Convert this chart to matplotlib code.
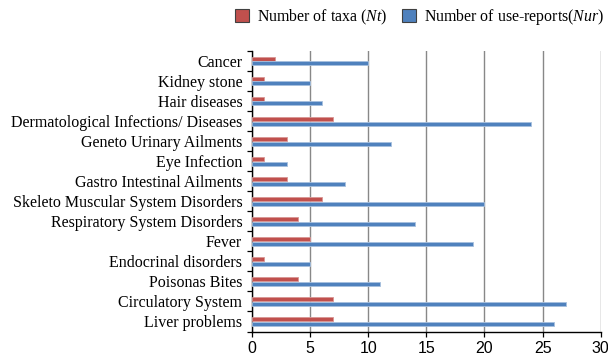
import matplotlib
matplotlib.use("Agg")
import matplotlib.pyplot as plt
import numpy as np

categories = ["Cancer", "Kidney stone", "Hair diseases", "Dermatological Infections/ Diseases",
              "Geneto Urinary Ailments", "Eye Infection", "Gastro Intestinal Ailments",
              "Skeleto Muscular System Disorders", "Respiratory System Disorders", "Fever",
              "Endocrinal disorders", "Poisonas Bites", "Circulatory System", "Liver problems"]
nt = [2, 1, 1, 7, 3, 1, 3, 6, 4, 5, 1, 4, 7, 7]
nur = [10, 5, 6, 24, 12, 3, 8, 20, 14, 19, 5, 11, 27, 26]
xticks = [0, 5, 10, 15, 20, 25, 30]

plt.rcParams['mathtext.fontset'] = 'custom'
plt.rcParams['mathtext.rm'] = 'Liberation Serif'
plt.rcParams['mathtext.it'] = 'Liberation Serif:italic'

fig = plt.figure(figsize=(6.08, 3.59), dpi=100)
ax = fig.add_axes([252/608, 1-331.5/359, (600.7-252)/608, (331.5-51)/359])

y = np.arange(len(categories))
h = 0.2
red = "#C0504D"
blue = "#4F81BD"
ax.barh(y + 0.0, nt, height=h, color=red, edgecolor="#D99694", linewidth=0.6,
        label="Number of taxa ($\\mathit{Nt}$)", zorder=3)
ax.barh(y + 0.22, nur, height=h, color=blue, edgecolor="#A7C0DE", linewidth=0.6,
        label="Number of use-reports($\\mathit{Nur}$)", zorder=3)

ax.set_ylim(len(categories) - 0.5 + 0.1, -0.5 + 0.1)
ax.set_xlim(0, 30)
ax.set_xticks(xticks)
ax.set_xticklabels([str(v) for v in xticks], fontfamily="Liberation Sans", fontsize=11.5)

ax.set_yticks(y + 0.1)
ax.set_yticklabels(categories, fontfamily="Liberation Serif", fontsize=11.5)
ax.tick_params(axis='y', length=0, pad=7)
ax.set_yticks(np.arange(len(categories) + 1) - 0.5 + 0.1, minor=True)
ax.tick_params(axis='y', which='minor', length=3.5, width=0.9, direction='out')
ax.tick_params(axis='x', length=3.5, width=0.9, direction='out', pad=3)

ax.grid(axis='x', color="#888888", linewidth=1.0, zorder=0)
for s in ['top', 'right']:
    ax.spines[s].set_visible(False)
ax.spines['left'].set_linewidth(1.0)
ax.spines['bottom'].set_linewidth(1.0)

leg = fig.legend(loc='upper left', bbox_to_anchor=(221/608, 1.02), ncol=2, frameon=False,
                 prop={'family': 'Liberation Serif', 'size': 11.4},
                 handlelength=0.85, handleheight=0.85, handletextpad=0.55, columnspacing=0.9)
for p in leg.get_patches():
    p.set_edgecolor("#404040")
    p.set_linewidth(0.8)

fig.savefig("out.png", dpi=100)
